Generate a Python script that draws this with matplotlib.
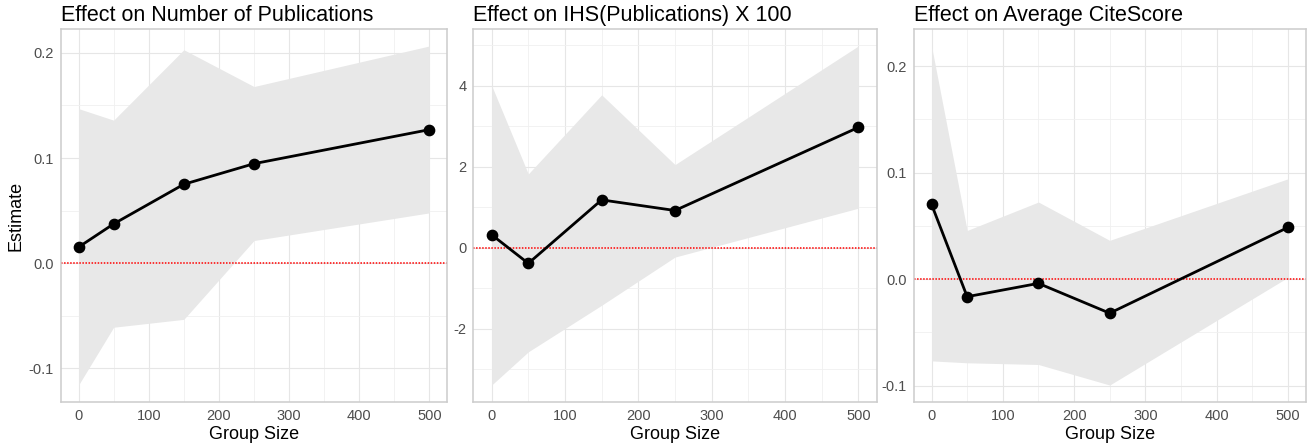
import numpy as np
import matplotlib
matplotlib.use("Agg")
import matplotlib.pyplot as plt
from matplotlib.ticker import MultipleLocator

plt.rcParams['font.family'] = ['Liberation Sans', 'DejaVu Sans']

group_size = [0, 50, 150, 250, 500]

titles = ["Effect on Number of Publications",
          "Effect on IHS(Publications) X 100",
          "Effect on Average CiteScore"]

pubs_est = [0.0152, 0.0373, 0.075, 0.0946, 0.127]
pubs_lo = [-0.116, -0.061, -0.0535, 0.0215, 0.0478]
pubs_hi = [0.147, 0.136, 0.203, 0.168, 0.2066]

ihs_est = [0.32, -0.385, 1.18, 0.918, 2.967]
ihs_lo = [-3.385, -2.566, -1.418, -0.23, 0.975]
ihs_hi = [4.0, 1.82, 3.77, 2.05, 4.975]

cite_est = [0.0703, -0.0165, -0.004, -0.032, 0.0485]
cite_lo = [-0.0768, -0.0786, -0.0802, -0.0995, 0.0016]
cite_hi = [0.219, 0.0457, 0.0724, 0.0364, 0.0942]

panels = [(pubs_est, pubs_lo, pubs_hi, 0.1, "{:.1f}"),
          (ihs_est, ihs_lo, ihs_hi, 2, "{:.0f}"),
          (cite_est, cite_lo, cite_hi, 0.1, "{:.1f}")]

boxes = [(61, 447), (473.3, 876.7), (913.7, 1305.7)]
W, H = 1316, 446
top, bottom = 29, 402

fig = plt.figure(figsize=(W / 100, H / 100), dpi=100)

for i, (est, lo, hi, step, fmt) in enumerate(panels):
    l, r = boxes[i]
    ax = fig.add_axes([l / W, (H - bottom) / H, (r - l) / W, (bottom - top) / H])
    ax.fill_between(group_size, lo, hi, color="#e8e8e8", lw=0, zorder=1)
    ax.axhline(0, color="red", ls=(0, (1.0, 1.0)), lw=1.1, zorder=2)
    ax.plot(group_size, est, color="black", lw=2, zorder=3)
    ax.scatter(group_size, est, s=55, color="black", zorder=4)

    ymin, ymax = min(lo), max(hi)
    pad = (ymax - ymin) * 0.05
    ax.set_ylim(ymin - pad, ymax + pad)
    ax.set_xlim(-25, 525)

    ax.xaxis.set_major_locator(MultipleLocator(100))
    ax.xaxis.set_minor_locator(MultipleLocator(50))
    ax.yaxis.set_major_locator(MultipleLocator(step))
    ax.yaxis.set_minor_locator(MultipleLocator(step / 2))
    ax.set_yticks([t for t in ax.get_yticks() if ymin - pad <= t <= ymax + pad])
    ax.set_yticklabels([fmt.format(0) if abs(t) < 1e-9 else fmt.format(t)
                        for t in ax.get_yticks()])
    ax.set_ylim(ymin - pad, ymax + pad)

    ax.grid(which="major", color="#e6e6e6", lw=0.8, zorder=0)
    ax.grid(which="minor", color="#f0f0f0", lw=0.6, zorder=0)
    ax.set_axisbelow(True)
    ax.tick_params(which="both", length=0, labelsize=10.5, labelcolor="#4d4d4d", pad=5)
    for sp in ax.spines.values():
        sp.set_color("#cccccc")
        sp.set_linewidth(1.1)

    ax.set_title(titles[i], loc="left", fontsize=15.5, pad=6)
    ax.set_xlabel("Group Size", fontsize=13, labelpad=2)
    if i == 0:
        ax.set_ylabel("Estimate", fontsize=13, labelpad=3)

fig.savefig("out.png", dpi=100)
